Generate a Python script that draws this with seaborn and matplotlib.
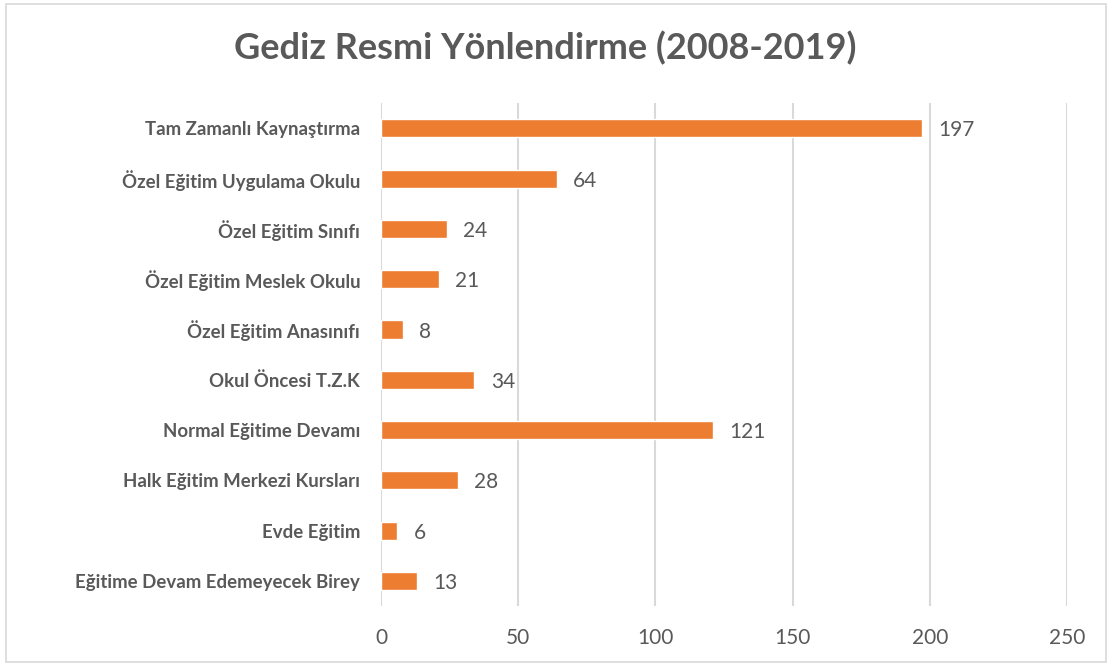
import matplotlib
matplotlib.use("Agg")
import matplotlib.pyplot as plt
import pandas as pd
import seaborn as sns
from matplotlib.patches import Rectangle

kategoriler = [
    "Tam Zamanlı Kaynaştırma",
    "Özel Eğitim Uygulama Okulu",
    "Özel Eğitim Sınıfı",
    "Özel Eğitim Meslek Okulu",
    "Özel Eğitim Anasınıfı",
    "Okul Öncesi T.Z.K",
    "Normal Eğitime Devamı",
    "Halk Eğitim Merkezi Kursları",
    "Evde Eğitim",
    "Eğitime Devam Edemeyecek Birey",
]
degerler = [197, 64, 24, 21, 8, 34, 121, 28, 6, 13]
x_ticks = [0, 50, 100, 150, 200, 250]

df = pd.DataFrame({"kategori": kategoriler, "deger": degerler})

sns.set_theme(style="white")
plt.rcParams["font.family"] = ["Lato", "DejaVu Sans"]

GRIS = "#595959"
NARANJA = "#ED7D31"

fig = plt.figure(figsize=(11.12, 6.66), dpi=100)
ax = fig.add_axes([0.3426, 0.09, 0.617, 0.755])

sns.barplot(data=df, y="kategori", x="deger", color=NARANJA, width=0.36,
            saturation=1, ax=ax, zorder=3)

for p, v in zip(ax.patches, degerler):
    ax.text(p.get_width() + 6, p.get_y() + p.get_height() / 2 + 0.04, f"{v}",
            va="center", ha="left", fontsize=15, color=GRIS)

ax.set_xlim(0, 250)
ax.set_ylim(9.5, -0.5)
ax.set_xticks(x_ticks)
ax.set_xticklabels([str(t) for t in x_ticks], fontsize=15, color=GRIS)
ax.tick_params(axis="x", length=0, pad=16)
ax.tick_params(axis="y", length=0, pad=15)
for lbl in ax.get_yticklabels():
    lbl.set_fontsize(13.4)
    lbl.set_fontweight("bold")
    lbl.set_color(GRIS)
ax.xaxis.grid(True, color="#D9D9D9", linewidth=1.5, zorder=0)
ax.yaxis.grid(False)
for s in ax.spines.values():
    s.set_visible(False)
ax.set_xlabel("")
ax.set_ylabel("")

fig.text(0.49, 0.928, "Gediz Resmi Yönlendirme (2008-2019)", ha="center",
         va="center", fontsize=26, fontweight="bold", color=GRIS)

fig.patches.append(Rectangle((0.005, 0.006), 0.99, 0.988, transform=fig.transFigure,
                             fill=False, edgecolor="#D9D9D9", linewidth=1.2))

fig.savefig("out.png", dpi=100)
